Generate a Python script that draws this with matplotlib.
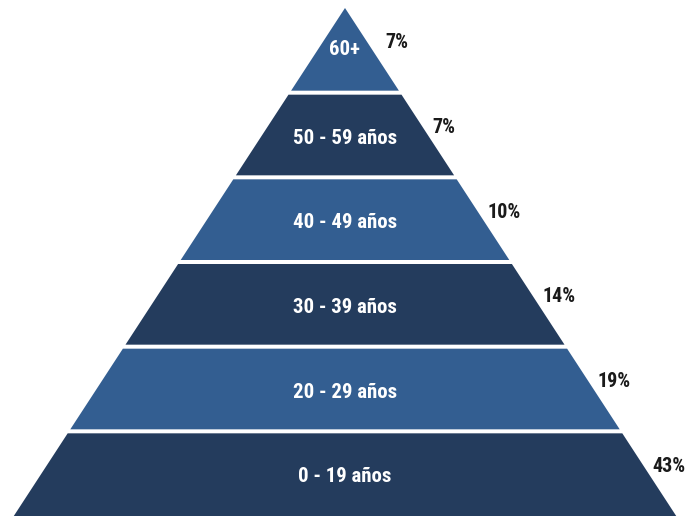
import matplotlib.pyplot as plt
from matplotlib.patches import Polygon
from matplotlib import font_manager

# Data (top to bottom)
grupos = ['60+', '50 - 59 años', '40 - 49 años', '30 - 39 años', '20 - 29 años', '0 - 19 años']
porcentajes = [7, 7, 10, 14, 19, 43]

colores = ['#335e91', '#243c5d']

names = {f.name for f in font_manager.fontManager.ttflist}
fam = 'DejaVu Sans'
for cand in ['Liberation Sans Narrow', 'DejaVu Sans Condensed', 'Roboto Condensed',
             'Open Sans Condensed', 'Noto Sans Condensed']:
    if cand in names:
        fam = cand
        break

fig = plt.figure(figsize=(6.95, 5.16), dpi=100)
ax = fig.add_axes([0, 0, 1, 1])
ax.set_xlim(0, 695)
ax.set_ylim(516, 0)
ax.axis('off')

apex_x, apex_y, base_y = 345, 8, 516
slope = 0.652
n = len(grupos)
h = (base_y - apex_y) / n
gap = 2.0

for i, (g, p) in enumerate(zip(grupos, porcentajes)):
    y0 = apex_y + i * h
    y1 = y0 + h
    t = y0 + (gap if i > 0 else 0)
    b = y1 - (gap if i < n - 1 else 0)
    wt = slope * (t - apex_y)
    wb = slope * (b - apex_y)
    poly = Polygon([(apex_x - wt, t), (apex_x + wt, t), (apex_x + wb, b), (apex_x - wb, b)],
                   closed=True, facecolor=colores[i % 2], edgecolor='none')
    ax.add_patch(poly)
    yc = (y0 + y1) / 2 + (-1 if i == 0 else 3)
    ax.text(apex_x, yc, g, color='white', fontsize=15, fontweight='bold',
            family=fam, ha='center', va='center', fontstretch='condensed')
    ly = y0 + 35
    lx = apex_x + slope * (ly - apex_y) + (18 if i == 0 else 9)
    ax.text(lx, ly, f'{p}%', color='#1a1a1a', fontsize=14.5, fontweight='bold',
            family=fam, ha='left', va='center', fontstretch='condensed')

fig.savefig('out.png', dpi=100)
